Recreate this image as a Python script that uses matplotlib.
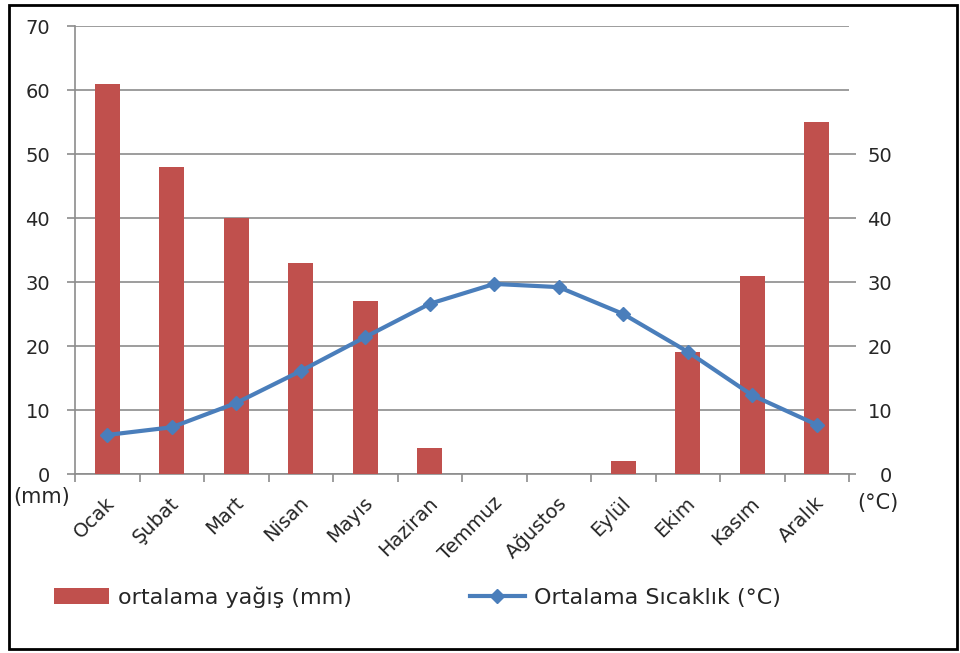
import matplotlib
matplotlib.use("Agg")
import matplotlib.pyplot as plt
from matplotlib.patches import Rectangle, Patch
from matplotlib.lines import Line2D
from matplotlib.transforms import ScaledTranslation

months = ["Ocak", "Şubat", "Mart", "Nisan", "Mayıs", "Haziran", "Temmuz",
          "Ağustos", "Eylül", "Ekim", "Kasım", "Aralık"]
rain_mm = [61, 48, 40, 33, 27, 4, 0, 0, 2, 19, 31, 55]
temp_c = [6.1, 7.3, 11.1, 16.1, 21.4, 26.6, 29.7, 29.2, 25.0, 19.1, 12.3, 7.7]
left_ticks = [0, 10, 20, 30, 40, 50, 60, 70]
right_ticks = [0, 10, 20, 30, 40, 50]

plt.rcParams['font.family'] = ['DejaVu Sans']

bar_color = "#C0504D"
line_color = "#4A7EBB"
grid_color = "#8C8C8C"
text_color = "#262626"

fig = plt.figure(figsize=(9.6, 6.53), dpi=100)
ax = fig.add_axes([75/960, 1-474/653, (849-75)/960, (474-26)/653])

x = list(range(len(months)))
ax.bar(x, rain_mm, width=0.39, color=bar_color, zorder=3)
ax.set_xlim(-0.5, 11.5)
ax.set_ylim(0, 70)
ax.set_yticks(left_ticks)
ax.yaxis.grid(True, color=grid_color, linewidth=1.2, zorder=0)
ax.set_axisbelow(True)
for s in ["top", "right"]:
    ax.spines[s].set_visible(False)
ax.spines["left"].set_color(grid_color)
ax.spines["bottom"].set_color(grid_color)
ax.spines["left"].set_linewidth(1.2)
ax.spines["bottom"].set_linewidth(1.2)
ax.tick_params(axis="y", colors=grid_color, length=6, width=1.2, labelcolor=text_color,
               labelsize=14, pad=12)

# x ticks between categories
ax.set_xticks([i - 0.5 for i in range(len(months) + 1)])
ax.set_xticklabels([])
ax.set_xticks(x, minor=True)
ax.set_xticklabels(months, minor=True, rotation=45, ha="right", rotation_mode="anchor",
                   fontsize=14, color=text_color)
ax.tick_params(axis="x", which="major", colors=grid_color, length=6, width=1.2, direction="out")
ax.tick_params(axis="x", which="minor", length=0, pad=14)
for lbl in ax.get_xticklabels(minor=True):
    lbl.set_transform(lbl.get_transform() + ScaledTranslation(-2/100, 0, fig.dpi_scale_trans))

ax2 = ax.twinx()
ax2.set_ylim(0, 70)
ax2.set_yticks(right_ticks)
for s in ["top", "right", "left", "bottom"]:
    ax2.spines[s].set_visible(False)
ax2.tick_params(axis="y", colors=grid_color, length=5, width=1.2, labelcolor=text_color,
                labelsize=14, pad=26)
for lbl in ax2.get_yticklabels():
    lbl.set_horizontalalignment("right")
ax2.plot(x, temp_c, color=line_color, linewidth=3, marker="D", markersize=7,
         markerfacecolor=line_color, markeredgecolor=line_color, zorder=4)
ax2.set_xlim(-0.5, 11.5)

fig.text(13/960, 1-497/653, "(mm)", fontsize=15, color=text_color, va="center", ha="left")
fig.text(857/960, 1-503/653, "(°C)", fontsize=15, color=text_color, va="center", ha="left")

handles = [Patch(facecolor=bar_color), Line2D([0], [0], color=line_color, linewidth=3,
                                                marker="D", markersize=7)]
labels = ["ortalama yağış (mm)", "Ortalama Sıcaklık (°C)"]
fig.legend(handles, labels, loc="center left", bbox_to_anchor=(34/960, 1-597/653), ncol=2,
           frameon=False, fontsize=16, handlelength=2.48, handleheight=0.7,
           columnspacing=5.3, handletextpad=0.4, labelcolor=text_color)

fig.patches.append(Rectangle((9/960, 4/653), (957-9)/960, (650-6)/653,
                             transform=fig.transFigure, fill=False, edgecolor="black",
                             linewidth=2))

fig.savefig("out.png", dpi=100, facecolor="white")
